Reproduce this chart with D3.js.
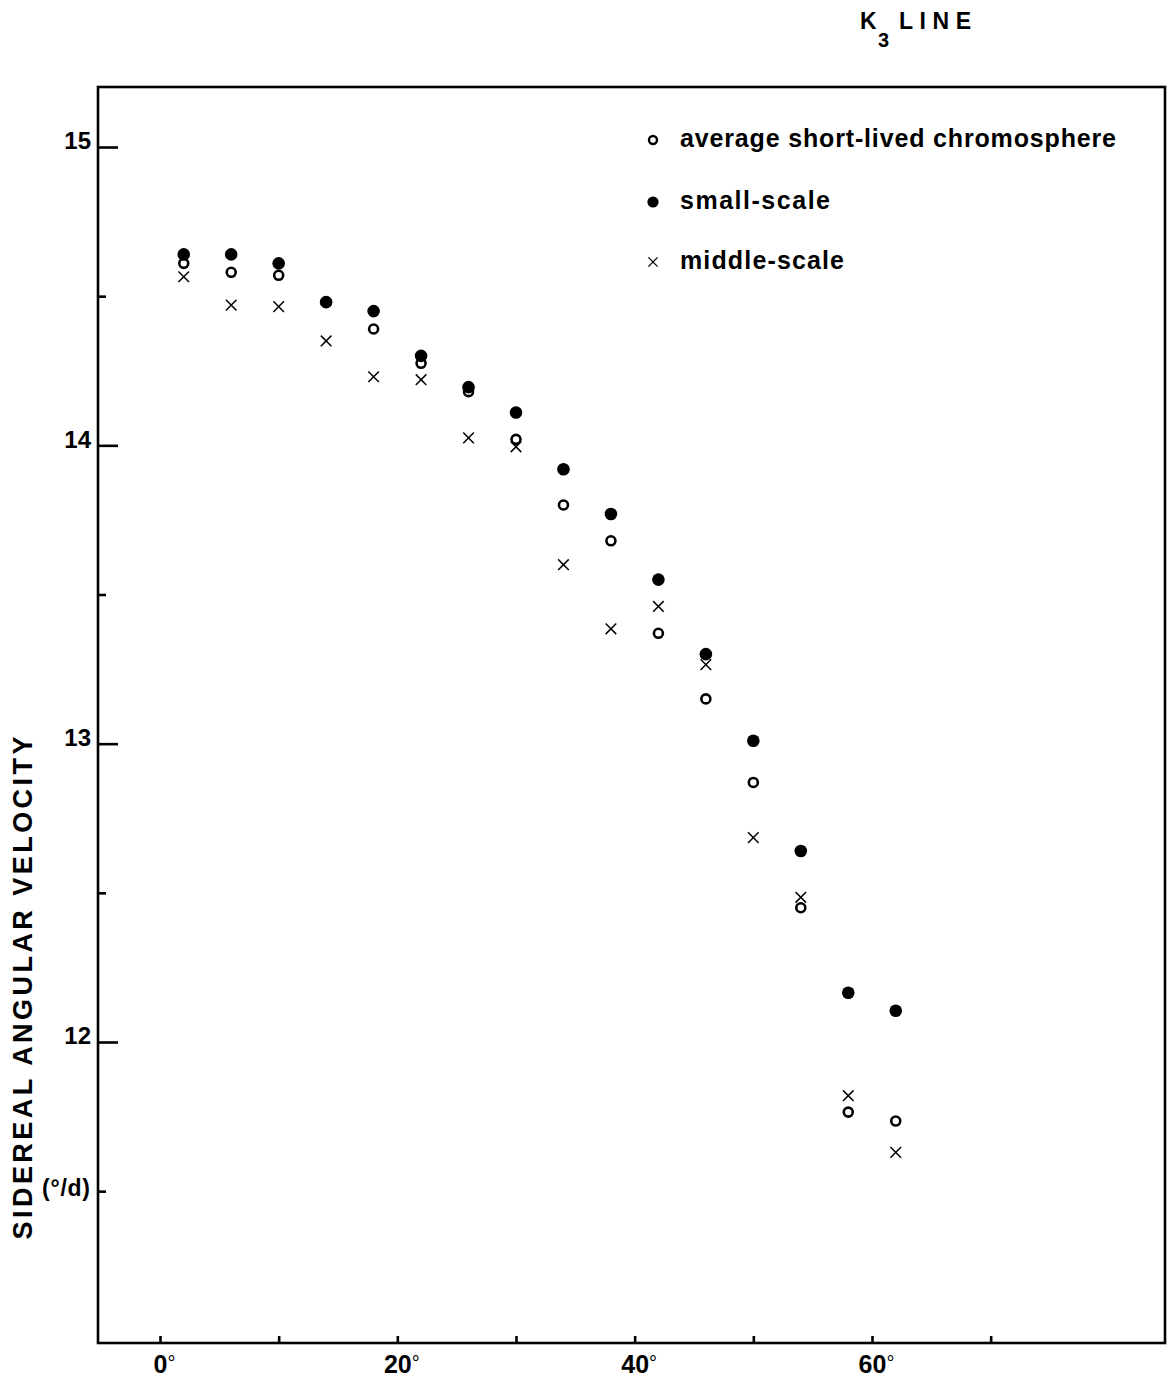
<!DOCTYPE html>
<html>
<head>
<meta charset="utf-8">
<script src="https://cdn.jsdelivr.net/npm/d3@7"></script>
<style>
  body { margin: 0; background: #fff; }
  svg { display: block; font-family: "Liberation Sans", Arial, sans-serif; }
  .axis path.domain { display: none; }
  .axis line { stroke: #000; stroke-width: 2.6; }
  .axis text { fill: #000; font-weight: bold; font-family: "Liberation Sans", Arial, sans-serif; }
</style>
</head>
<body>
<div id="chart"></div>
<script>
// latitude bins (degrees)
var latitudes = [2, 6, 10, 14, 18, 22, 26, 30, 34, 38, 42, 46, 50, 54, 58, 62];

// sidereal angular velocity (deg/day)
var averageShortLived = [14.61, 14.58, 14.57, 14.48, 14.39, 14.275, 14.18, 14.02, 13.80, 13.68, 13.37, 13.15, 12.87, 12.45, 11.765, 11.735];
var smallScale        = [14.64, 14.64, 14.61, 14.48, 14.45, 14.30, 14.195, 14.11, 13.92, 13.77, 13.55, 13.30, 13.01, 12.64, 12.165, 12.105];
var middleScale       = [14.565, 14.47, 14.465, 14.35, 14.23, 14.22, 14.025, 13.995, 13.60, 13.385, 13.46, 13.265, 12.685, 12.485, 11.82, 11.63];

var legendLabels = ["average short-lived chromosphere", "small-scale", "middle-scale"];

// ticks
var yMajorTicks = [12, 13, 14, 15];
var yMinorTicks = [11.5, 12.5, 13.5, 14.5];
var xTicks = [0, 10, 20, 30, 40, 50, 60, 70];
var xLabelled = [0, 20, 40, 60];

var W = 1169, H = 1380;
var frame = {left: 98, right: 1165, top: 87, bottom: 1343};

var svg = d3.select("#chart")
	.append("svg")
	.attr("width", W)
	.attr("height", H);

// scales: calibrated on the printed ticks
var xScale = d3.scaleLinear().domain([0, 60]).range([160, 872]);
var yScale = d3.scaleLinear().domain([12, 15]).range([1042, 147]);

// frame
svg.append("rect")
	.attr("x", frame.left)
	.attr("y", frame.top)
	.attr("width", frame.right - frame.left)
	.attr("height", frame.bottom - frame.top)
	.attr("fill", "none")
	.attr("stroke", "#000")
	.attr("stroke-width", 2.6);

// left axis, major ticks pointing inward
var yAxisG = svg.append("g")
	.attr("class", "axis")
	.attr("transform", "translate(" + frame.left + ",0)")
	.call(d3.axisLeft(yScale).tickValues(yMajorTicks).tickSizeInner(-20).tickSizeOuter(0).tickPadding(7)
		.tickFormat(d3.format("d")));
yAxisG.selectAll("text")
	.attr("dy", "0.08em")
	.style("font-size", "24px");

// left axis minor ticks
svg.append("g")
	.attr("class", "axis")
	.attr("transform", "translate(" + frame.left + ",0)")
	.call(d3.axisLeft(yScale).tickValues(yMinorTicks).tickSizeInner(-8).tickSizeOuter(0).tickFormat(""));

// bottom axis
var xAxisG = svg.append("g")
	.attr("class", "axis")
	.attr("transform", "translate(0," + frame.bottom + ")")
	.call(d3.axisBottom(xScale).tickValues(xTicks).tickSizeInner(-7).tickSizeOuter(0).tickPadding(12)
		.tickFormat(function(d) { return xLabelled.indexOf(d) >= 0 ? d : ""; }));
xAxisG.selectAll("text")
	.style("font-size", "25px")
	.each(function(d) {
		if (xLabelled.indexOf(d) < 0) return;
		var t = d3.select(this);
		var deg = t.append("tspan")
			.attr("dy", "-0.12em")
			.style("font-size", "20px")
			.style("font-weight", "normal")
			.text("°");
		// keep the digits centred on the tick, degree sign hanging to the right
		t.attr("dx", deg.node().getComputedTextLength() / 2);
	});

// y axis title
svg.append("text")
	.attr("transform", "translate(32,988) rotate(-90)")
	.attr("text-anchor", "middle")
	.attr("textLength", 503)
	.attr("lengthAdjust", "spacing")
	.style("font-size", "27px")
	.style("font-weight", "bold")
	.text("SIDEREAL ANGULAR VELOCITY");

svg.append("text")
	.attr("x", 42)
	.attr("y", 1196)
	.attr("textLength", 48)
	.attr("lengthAdjust", "spacing")
	.style("font-size", "23px")
	.style("font-weight", "bold")
	.text("(°/d)");

// title K3 LINE
var title = svg.append("g").style("font-weight", "bold");
title.append("text").attr("x", 860).attr("y", 29).style("font-size", "23px").text("K");
title.append("text").attr("x", 878).attr("y", 47).style("font-size", "20px").text("3");
title.append("text").attr("x", 899).attr("y", 29)
	.attr("textLength", 72).attr("lengthAdjust", "spacing")
	.style("font-size", "23px").text("LINE");

// marker helpers
function crossPath(h) {
	return "M" + (-h) + "," + (-h) + "L" + h + "," + h + "M" + (-h) + "," + h + "L" + h + "," + (-h);
}

var points = function(values) {
	return latitudes.map(function(lat, i) { return {lat: lat, v: values[i]}; });
};

// open circles
svg.append("g").selectAll("circle")
	.data(points(averageShortLived))
	.enter()
	.append("circle")
	.attr("cx", function(d) { return xScale(d.lat); })
	.attr("cy", function(d) { return yScale(d.v); })
	.attr("r", 4.5)
	.attr("fill", "#fff")
	.attr("stroke", "#000")
	.attr("stroke-width", 2.6);

// crosses
svg.append("g").selectAll("path")
	.data(points(middleScale))
	.enter()
	.append("path")
	.attr("transform", function(d) { return "translate(" + xScale(d.lat) + "," + yScale(d.v) + ")"; })
	.attr("d", crossPath(5.3))
	.attr("fill", "none")
	.attr("stroke", "#000")
	.attr("stroke-width", 1.5);

// filled circles
svg.append("g").selectAll("circle")
	.data(points(smallScale))
	.enter()
	.append("circle")
	.attr("cx", function(d) { return xScale(d.lat); })
	.attr("cy", function(d) { return yScale(d.v); })
	.attr("r", 6.3)
	.attr("fill", "#000");

// legend
var legendY = [140, 202, 262];
var legendWidths = [436, 150, 164];
var legend = svg.append("g");
legend.append("circle").attr("cx", 653).attr("cy", legendY[0]).attr("r", 4)
	.attr("fill", "#fff").attr("stroke", "#000").attr("stroke-width", 2.4);
legend.append("circle").attr("cx", 653).attr("cy", legendY[1]).attr("r", 5.6).attr("fill", "#000");
legend.append("path").attr("transform", "translate(653," + legendY[2] + ")")
	.attr("d", crossPath(4.6)).attr("stroke", "#000").attr("stroke-width", 1.3).attr("fill", "none");

legend.selectAll("text")
	.data(legendLabels)
	.enter()
	.append("text")
	.attr("x", 680)
	.attr("y", function(d, i) { return legendY[i] + 7; })
	.attr("textLength", function(d, i) { return legendWidths[i]; })
	.attr("lengthAdjust", "spacing")
	.style("font-size", "25px")
	.style("font-weight", "bold")
	.text(function(d) { return d; });
</script>
</body>
</html>
